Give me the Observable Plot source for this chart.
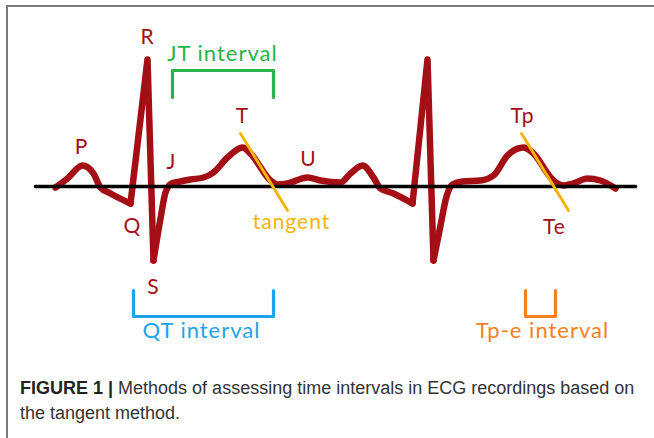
<!DOCTYPE html>
<html>
<head>
<meta charset="utf-8">
<script src="https://cdn.jsdelivr.net/npm/d3@7"></script>
<script src="https://cdn.jsdelivr.net/npm/@observablehq/plot@0.6"></script>
<style>
  html, body { margin: 0; padding: 0; background: #fff; }
  #wrap { position: relative; width: 654px; height: 438px; overflow: hidden; }
  #frame { position: absolute; left: 6px; top: 5px; width: 700px; height: 500px;
           border-left: 2px solid #7b7b7b; border-top: 2px solid #7b7b7b; }
  #chart { position: absolute; left: 0; top: 0; }
  #chart svg text { letter-spacing: 1px; }
  #caption { position: absolute; left: 20px; top: 376px; width: 634px; white-space: nowrap;
             font-family: "Liberation Sans", Arial, sans-serif; font-size: 18px;
             line-height: 25px; color: #333; }
  #caption b { color: #222; }
</style>
</head>
<body>
<div id="wrap">
  <div id="frame"></div>
  <div id="chart"></div>
  <div id="caption"><b>FIGURE 1 |</b> Methods of assessing time intervals in ECG recordings based on<br>the tangent method.</div>
</div>
<script>
// ECG trace: time (arbitrary units) and amplitude (arbitrary units, 0 = isoelectric line)
const traceTime = [55, 67, 82, 93, 100, 110, 130, 147, 153, 160, 165, 171, 180, 190, 203, 213, 227, 242, 250, 270, 277, 287, 307, 320, 340, 350, 362, 373, 380, 393, 412, 427, 433, 440, 446, 452, 462, 480, 493, 507, 523, 532, 553, 563, 573, 587, 600, 615];
const traceAmp  = [-1, 8, 21, 13, -1, -7, -17, 127, -74, -32, -6, 3, 5, 7, 9, 14, 29, 39, 33, 6, 2, 3, 9, 6, 4, 13, 21, 9, -2, -7, -17, 127, -74, -39, -10, 2, 5, 6, 11, 31, 39, 34, 6, 1, 3, 8, 6, -2];

// isoelectric baseline
const baselineTime = [35, 635];
const baselineAmp = [0, 0];

// tangent lines on the T-wave downslope
const tangentId = ["t1", "t1", "t2", "t2"];
const tangentTime = [240, 287, 521, 568];
const tangentAmp = [53, -24, 53, -24];

// wave labels
const waveLabels = ["P", "Q", "R", "S", "J", "T", "U", "Tp", "Te"];
const waveLabelTime = [81, 132, 147, 153, 171, 242, 308, 522, 554];
const waveLabelAmp = [33, -46, 143, -107, 18, 64, 21, 64, -47];

// intervals (brackets)
const intervalNames = ["JT interval", "QT interval", "Tp-e interval"];
const intervalStart = [172, 133, 525];
const intervalEnd = [273, 273, 555];
const intervalLevel = [116, -130, -130];
const intervalTip = [89, -104, -104];
const intervalLabelTime = [222, 201, 542];
const intervalLabelAmp = [126, -151, -151];
const intervalColors = ["#2bb24a", "#1fa3e8", "#f7801f"];

// tangent label
const tangentLabel = ["tangent"];
const tangentLabelTime = [291];
const tangentLabelAmp = [-42];

const waveColor = "#a30f14";
const tangentColor = "#f6b40c";
const labelFont = "Lato, 'Open Sans', sans-serif";

// split the trace: sharp QRS complexes (Q-R-S drawn straight) and smooth waves between them
const rIdx = traceAmp.map((v, i) => i).filter(i => traceAmp[i] === d3.max(traceAmp));
const smooth = [], sharp = [];
let seg = 0;
traceTime.forEach((t, i) => {
  const v = traceAmp[i];
  const inQRS = rIdx.some(r => i >= r - 1 && i <= r + 1);
  const isQ = rIdx.some(r => i === r - 1);
  const isS = rIdx.some(r => i === r + 1);
  if (!inQRS || isQ) smooth.push({seg: "w" + seg, t, v});
  if (isQ) seg++;
  if (isS) smooth.push({seg: "w" + seg, t, v});
  if (inQRS) sharp.push({seg: "q" + rIdx.findIndex(r => i >= r - 1 && i <= r + 1), t, v});
});

const baseline = baselineTime.map((t, i) => ({t, v: baselineAmp[i]}));
const tangents = tangentTime.map((t, i) => ({id: tangentId[i], t, v: tangentAmp[i]}));
const labels = waveLabels.map((s, i) => ({s, t: waveLabelTime[i], v: waveLabelAmp[i]}));
const brackets = [];
intervalNames.forEach((name, i) => {
  brackets.push({name, t: intervalStart[i], v: intervalTip[i]});
  brackets.push({name, t: intervalStart[i], v: intervalLevel[i]});
  brackets.push({name, t: intervalEnd[i], v: intervalLevel[i]});
  brackets.push({name, t: intervalEnd[i], v: intervalTip[i]});
});
const intervalLabels = intervalNames.map((name, i) => ({name, t: intervalLabelTime[i], v: intervalLabelAmp[i]}));
const tangentLabels = tangentLabel.map((s, i) => ({s, t: tangentLabelTime[i], v: tangentLabelAmp[i]}));

const chart = Plot.plot({
  width: 654,
  height: 360,
  margin: 0,
  x: {domain: [0, 654], axis: null},
  y: {domain: [-174, 186], axis: null},
  color: {domain: intervalNames, range: intervalColors},
  style: {background: "transparent"},
  marks: [
    Plot.line(smooth, {x: "t", y: "v", z: "seg", stroke: waveColor, strokeWidth: 6.5, curve: "monotone-x", strokeLinejoin: "round", strokeLinecap: "round"}),
    Plot.line(sharp, {x: "t", y: "v", z: "seg", stroke: waveColor, strokeWidth: 6.5, curve: "linear", strokeLinejoin: "round", strokeLinecap: "round"}),
    Plot.line(baseline, {x: "t", y: "v", stroke: "#000", strokeWidth: 3.5}),
    Plot.line(tangents, {x: "t", y: "v", z: "id", stroke: tangentColor, strokeWidth: 3}),
    Plot.line(brackets, {x: "t", y: "v", z: "name", stroke: "name", strokeWidth: 3.2}),
    Plot.text(labels, {x: "t", y: "v", text: "s", fill: waveColor, fontSize: 21, fontFamily: labelFont, lineAnchor: "bottom", textAnchor: "middle"}),
    Plot.text(intervalLabels, {x: "t", y: "v", text: "name", fill: "name", fontSize: 22, fontFamily: labelFont, lineAnchor: "bottom", textAnchor: "middle"}),
    Plot.text(tangentLabels, {x: "t", y: "v", text: "s", fill: tangentColor, fontSize: 21, fontFamily: labelFont, lineAnchor: "bottom", textAnchor: "middle"})
  ]
});
document.getElementById("chart").appendChild(chart);
</script>
</body>
</html>
